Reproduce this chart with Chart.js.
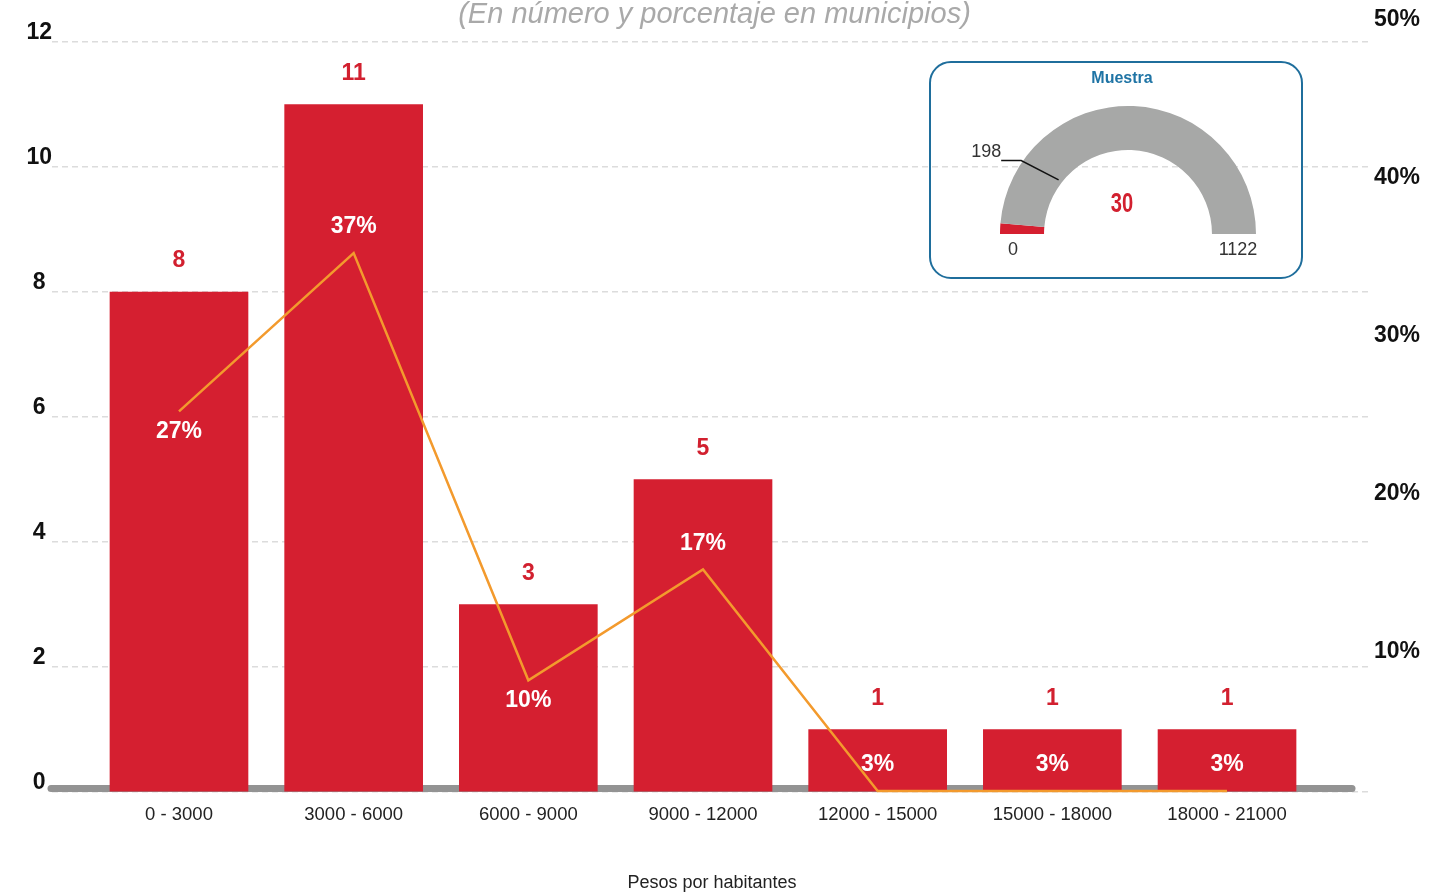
<!DOCTYPE html>
<html>
<head>
<meta charset="utf-8">
<script src="https://cdn.jsdelivr.net/npm/chart.js@4.4.1/dist/chart.umd.min.js"></script>
<style>
  body { margin: 0; background: #fff; }
  #wrap { position: relative; width: 1429px; height: 893px; }
  #main { position: absolute; left: 0; top: 0; }
  #gaugeBox { position: absolute; left: 929px; top: 61px; width: 374px; height: 218px;
    box-sizing: border-box; border: 2.5px solid #1f6e9c; border-radius: 22px; }
  #gauge { position: absolute; left: 929px; top: 61px; }
</style>
</head>
<body>
<div id="wrap">
  <canvas id="main" width="1429" height="893"></canvas>
  <div id="gaugeBox"></div>
  <canvas id="gauge" width="374" height="218"></canvas>
</div>
<script>
// datos
const categories = ['0 - 3000', '3000 - 6000', '6000 - 9000', '9000 - 12000', '12000 - 15000', '15000 - 18000', '18000 - 21000'];
const municipios = [8, 11, 3, 5, 1, 1, 1];
const porcentajes = [27, 37, 10, 17, 3, 3, 3];
const leftTicks = [0, 2, 4, 6, 8, 10, 12];
const rightTicks = [10, 20, 30, 40, 50];

// muestra (gauge)
const muestraMin = 0;
const muestraMax = 1122;
const muestraValor = 30;
const muestraMarca = 198;

const red = '#d51f30';
const orange = '#f39a2d';
const font = '"Liberation Sans", Arial, Helvetica, sans-serif';

// linea gris de base
const baseLine = {
  id: 'baseLine',
  beforeDatasetsDraw(chart) {
    const ctx = chart.ctx;
    const y = chart.scales.y.getPixelForValue(0) - 3.5;
    ctx.save();
    ctx.strokeStyle = '#939393';
    ctx.lineWidth = 7;
    ctx.lineCap = 'round';
    ctx.beginPath();
    ctx.moveTo(chart.chartArea.left - 1, y);
    ctx.lineTo(chart.chartArea.right - 20, y);
    ctx.stroke();
    ctx.restore();
  }
};

// etiquetas de valores
const valueLabels = {
  id: 'valueLabels',
  afterDatasetsDraw(chart) {
    const ctx = chart.ctx;
    const bars = chart.getDatasetMeta(0).data;
    const pts = chart.getDatasetMeta(1).data;
    ctx.save();
    ctx.textAlign = 'center';
    ctx.textBaseline = 'middle';
    ctx.font = 'bold 23px ' + font;
    bars.forEach((b, i) => {
      ctx.fillStyle = '#d2202f';
      ctx.fillText(municipios[i], b.x, b.y - 31);
    });
    pts.forEach((p, i) => {
      const v = porcentajes[i];
      const prev = porcentajes[i - 1], next = porcentajes[i + 1];
      const below = v > 5 && ((next !== undefined && next > v) || (prev !== undefined && prev > v));
      ctx.fillStyle = '#fff';
      ctx.fillText(v + '%', p.x, below ? p.y + 20 : p.y - 26);
    });
    ctx.restore();
  }
};

new Chart(document.getElementById('main'), {
  data: {
    datasets: [
      {
        type: 'bar',
        data: municipios.map((v, i) => ({ x: i, y: v })),
        backgroundColor: red,
        barThickness: 138,
        yAxisID: 'y',
        order: 1
      },
      {
        type: 'line',
        data: porcentajes.map((v, i) => ({ x: i, y: v })),
        borderColor: orange,
        borderWidth: 2.5,
        pointRadius: 0,
        tension: 0,
        clip: false,
        yAxisID: 'y2',
        order: 0
      }
    ]
  },
  options: {
    responsive: false,
    animation: false,
    layout: { padding: 0 },
    plugins: {
      legend: { display: false },
      tooltip: { enabled: false },
      title: {
        display: true,
        text: '(En número y porcentaje en municipios)',
        color: '#a9a9a9',
        font: { family: font, size: 29, style: 'italic', weight: 'normal' },
        padding: { top: -2, bottom: 9.2 }
      }
    },
    scales: {
      x: {
        type: 'linear',
        offset: false,
        min: -0.727,
        max: 6.83,
        afterBuildTicks: s => { s.ticks = categories.map((c, i) => ({ value: i })); },
        afterFit: s => { s.height = 101; },
        grid: { display: false, offset: false },
        border: { display: false },
        ticks: {
          autoSkip: false,
          maxRotation: 0,
          padding: 4,
          color: '#222',
          font: { family: font, size: 18.5 },
          callback: v => categories[v]
        },
        title: {
          display: true,
          text: 'Pesos por habitantes',
          color: '#222',
          font: { family: font, size: 18 },
          padding: { top: 0, bottom: -1 }
        }
      },
      y: {
        position: 'left',
        min: 0,
        max: 12,
        afterBuildTicks: s => { s.ticks = leftTicks.map(v => ({ value: v })); },
        afterFit: s => { s.width = 52; },
        grid: { color: '#dcdcdc', lineWidth: 1.5, drawTicks: false },
        border: { display: false, dash: [6, 4] },
        ticks: {
          crossAlign: 'center',
          padding: 0,
          labelOffset: -9,
          color: '#111',
          font: { family: font, size: 23, weight: 'bold' }
        }
      },
      y1: {
        position: 'right',
        min: 1.01,
        max: 48.48,
        afterBuildTicks: s => { s.ticks = rightTicks.map(v => ({ value: v })); },
        afterFit: s => { s.width = 57; },
        grid: { display: false, drawTicks: false },
        border: { display: false },
        ticks: {
          padding: 2,
          labelOffset: 2,
          color: '#111',
          font: { family: font, size: 23, weight: 'bold' },
          callback: v => v + '%'
        }
      },
      y2: {
        display: false,
        min: 2.94,
        max: 50.34
      }
    }
  },
  plugins: [baseLine, valueLabels]
});

// textos del gauge
const gaugeText = {
  id: 'gaugeText',
  afterDraw(chart) {
    const ctx = chart.ctx;
    const arc = chart.getDatasetMeta(0).data[0];
    const cx = arc.x, cy = arc.y, R = arc.outerRadius, r = arc.innerRadius;
    ctx.save();
    ctx.textAlign = 'center';
    ctx.textBaseline = 'middle';

    ctx.fillStyle = '#1f74a5';
    ctx.font = 'bold 16px ' + font;
    ctx.fillText('Muestra', cx - 6, chart.chartArea.top - 27);

    // valor en fuente condensada
    ctx.save();
    ctx.fillStyle = '#d2202f';
    ctx.font = 'bold 28px ' + font;
    ctx.translate(cx - 6, cy - 30);
    ctx.scale(0.72, 1);
    ctx.fillText(String(muestraValor), 0, 0);
    ctx.restore();

    ctx.fillStyle = '#333';
    ctx.font = '18px ' + font;
    ctx.fillText(String(muestraMin), cx - 115, cy + 16);
    ctx.fillText(String(muestraMax), cx + 110, cy + 16);

    // marca 198
    const a = Math.PI + (muestraMarca - muestraMin) / (muestraMax - muestraMin) * Math.PI;
    const ox = cx + R * Math.cos(a), oy = cy + R * Math.sin(a);
    const ix = cx + r * Math.cos(a), iy = cy + r * Math.sin(a);
    ctx.strokeStyle = '#111';
    ctx.lineWidth = 1.5;
    ctx.beginPath();
    ctx.moveTo(ox - 18, oy - 6);
    ctx.lineTo(ox + 2, oy - 6);
    ctx.lineTo(ix + 2, iy - 10);
    ctx.stroke();
    ctx.fillText(String(muestraMarca), ox - 33, oy - 15);
    ctx.restore();
  }
};

new Chart(document.getElementById('gauge'), {
  type: 'doughnut',
  data: {
    datasets: [{
      data: [muestraValor - muestraMin, muestraMax - muestraValor],
      backgroundColor: [red, '#a7a8a7'],
      borderWidth: 0
    }]
  },
  options: {
    responsive: false,
    animation: false,
    rotation: -90,
    circumference: 180,
    cutout: '65.6%',
    layout: { padding: { left: 71, right: 47, top: 45, bottom: 45 } },
    plugins: { legend: { display: false }, tooltip: { enabled: false } }
  },
  plugins: [gaugeText]
});
</script>
</body>
</html>
